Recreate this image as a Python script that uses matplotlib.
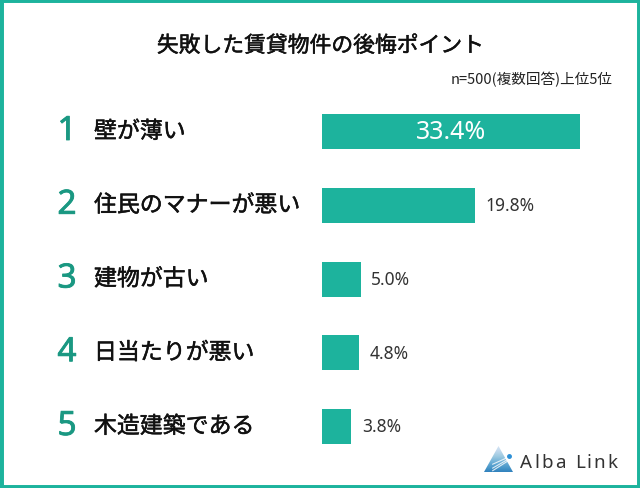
import numpy as np
import matplotlib.pyplot as plt
import matplotlib.patheffects as pe
from matplotlib.patches import Rectangle, Polygon

plt.rcParams['font.family'] = ['Noto Sans CJK JP', 'DejaVu Sans']

# data
ranks = ['1', '2', '3', '4', '5']
labels = ['壁が薄い', '住民のマナーが悪い', '建物が古い', '日当たりが悪い', '木造建築である']
values = [33.4, 19.8, 5.0, 4.8, 3.8]
title = '失敗した賃貸物件の後悔ポイント'
note = 'n=500(複数回答)上位5位'
brand = 'Alba Link'

teal = '#1db39d'
rank_col = '#1a9882'

W, H = 640, 489
fig = plt.figure(figsize=(W / 100, H / 100), dpi=100)

def fx(px):
    return px / W

def fy(py):
    return 1 - py / H

# frame
fig.patches.append(Rectangle((0, 0), 1, 1, transform=fig.transFigure,
                             fill=False, edgecolor=teal, linewidth=5))

# bar axes: 33.4% spans 258 px, rows 73.75 px apart
row = 73.75
ax = fig.add_axes([fx(322), fy(132.5 + 4.5 * row), fx(258), 5 * row / H])
ax.set_xlim(0, values[0])
ax.set_ylim(4.5, -0.5)
ax.axis('off')
pos = list(range(len(values)))
ax.barh(pos, values, height=35 / row, color=teal, edgecolor='none')

for i, v in enumerate(values):
    if i == 0:
        ax.text(v / 2, i, f'{v:.1f}%', ha='center', va='center', color='white',
                fontsize=18, family=['Noto Sans', 'DejaVu Sans'])
    else:
        ax.text(v + 1.4, i, f'{v:.1f}%', ha='left', va='center', color='#333333',
                fontsize=12.5, family=['Noto Sans', 'DejaVu Sans'])

# row labels in figure coords
for i, (r, lab) in enumerate(zip(ranks, labels)):
    yc = 132.5 + i * row
    fig.text(fx(67), fy(yc), r, ha='center', va='center', color=rank_col,
             fontsize=24, family=['Noto Sans', 'DejaVu Sans'],
             path_effects=[pe.withStroke(linewidth=0.6, foreground=rank_col)])
    fig.text(fx(94), fy(yc), lab, ha='left', va='center', color='#111111',
             fontsize=16.5,
             path_effects=[pe.withStroke(linewidth=0.35, foreground='#111111')])

fig.text(0.5, fy(47), title, ha='center', va='center', fontsize=15.7,
         color='#111111',
         path_effects=[pe.withStroke(linewidth=0.35, foreground='#111111')])
fig.text(fx(613), fy(80), note, ha='right', va='center', fontsize=10.5, color='#222222')

# logo: gradient triangle with a few light streaks
lax = fig.add_axes([fx(484), fy(473), fx(29), 26 / H])
lax.set_xlim(0, 1)
lax.set_ylim(0, 1)
lax.axis('off')
grad = np.linspace(0, 1, 50).reshape(-1, 1) * np.ones((1, 50))
img = lax.imshow(grad, extent=(0, 1, 0, 1), origin='lower', cmap='Blues_r',
                 vmin=-0.6, vmax=1.3, aspect='auto')
tri = Polygon([[0.5, 1], [0, 0], [1, 0]], closed=True, transform=lax.transData)
img.set_clip_path(tri)
for y0, y1 in [(0.45, 0.15), (0.5, 0.3), (0.4, 0.05)]:
    lax.plot([1, 0.3], [y0 + 0.15, y1], color='white', lw=0.8, alpha=0.8)
lax.plot([0.85], [0.62], 'o', color='#2b8fd6', ms=2.5)

# brand text with wide letter spacing
x = 520
for ch in brand:
    t = fig.text(fx(x), fy(463), ch, ha='left', va='center', fontsize=13.5,
                 color='#333333', family=['Noto Sans', 'DejaVu Sans'])
    if ch == ' ':
        x += 7
    else:
        r = fig.canvas.get_renderer()
        x += t.get_window_extent(r).width + 2.2

fig.savefig('out.png', dpi=100, facecolor='white')
